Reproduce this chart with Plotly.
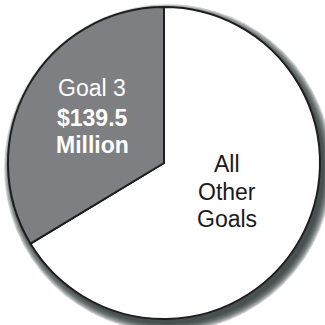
import plotly.graph_objects as go

# Budget split: the rest of the goals against Goal 3 ($ millions)
labels = ["All Other Goals", "Goal 3"]
values = [275.0, 139.5]
colors = ["#ffffff", "#7e7f82"]

W = H = 325
cx, cy, r = 164, 163, 156  # pie centre and radius in pixels (from top-left)

def px(x):
    return x / W

def py(y):
    return 1 - y / H

fig = go.Figure()

fig.add_trace(go.Pie(
    labels=labels,
    values=values,
    sort=False,
    direction="clockwise",
    rotation=0,
    textinfo="none",
    hoverinfo="label+value",
    marker=dict(colors=colors, line=dict(color="#1e1e1e", width=2)),
    domain=dict(x=[px(cx - r), px(cx + r)], y=[py(cy + r), py(cy - r)]),
    showlegend=False,
))

# Soft drop shadow toward the lower right, built from stacked translucent discs
shapes = []
ox, oy = 4, 5
steps = 9
for i in range(steps):
    rr = r + i
    shapes.append(dict(
        type="circle", xref="paper", yref="paper", layer="below",
        x0=px(cx + ox - rr), x1=px(cx + ox + rr),
        y0=py(cy + oy + rr), y1=py(cy + oy - rr),
        fillcolor="#2e3539", opacity=0.2, line=dict(width=0),
    ))
fig.update_layout(shapes=shapes)

font = "Liberation Sans, Arial, Helvetica, sans-serif"
fs = 23
annotations = [
    dict(x=px(92), y=py(88), text=labels[1],
         font=dict(family=font, size=fs, color="white")),
    dict(x=px(92), y=py(118), text=f"<b>${values[1]:.1f}</b>",
         font=dict(family=font, size=fs, color="white")),
    dict(x=px(92), y=py(145), text="<b>Million</b>",
         font=dict(family=font, size=fs, color="white")),
    dict(x=px(227), y=py(164), text="All",
         font=dict(family=font, size=fs, color="#1a1a1a")),
    dict(x=px(227), y=py(192), text="Other",
         font=dict(family=font, size=fs, color="#1a1a1a")),
    dict(x=px(227), y=py(219), text="Goals",
         font=dict(family=font, size=fs, color="#1a1a1a")),
]
for a in annotations:
    a.update(xref="paper", yref="paper", showarrow=False,
             xanchor="center", yanchor="middle")
fig.update_layout(annotations=annotations)

fig.update_layout(
    width=W, height=H,
    margin=dict(l=0, r=0, t=0, b=0),
    paper_bgcolor="white",
    plot_bgcolor="white",
)

fig.write_html("out.html")
